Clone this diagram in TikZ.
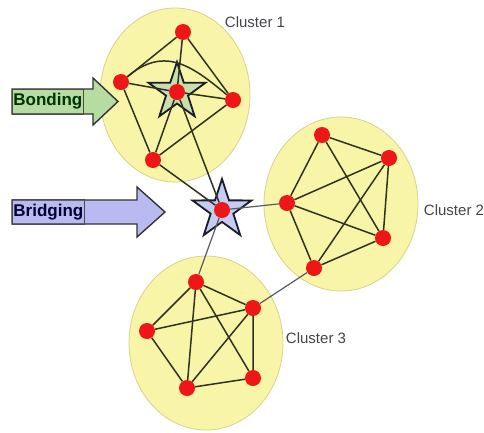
\documentclass[tikz,border=0pt]{standalone}
\usepackage{fontspec}
\setmainfont{Liberation Sans}
\usetikzlibrary{shapes.geometric}
\definecolor{clusterfill}{RGB}{248,245,168}
\definecolor{clusterline}{RGB}{212,212,140}
\definecolor{nodered}{RGB}{238,22,22}
\definecolor{edgedark}{RGB}{46,50,30}
\definecolor{linkgray}{RGB}{88,90,98}
\definecolor{labelgray}{RGB}{68,68,74}
\definecolor{bondgreen}{RGB}{182,220,162}
\definecolor{bridgeblue}{RGB}{186,186,242}
\definecolor{stargreen}{RGB}{200,222,172}
\definecolor{starblue}{RGB}{196,204,240}
\definecolor{starline}{RGB}{26,28,40}
\begin{document}
\begin{tikzpicture}[
        x=1pt, y=-1pt,
        zone/.style={draw=clusterline, fill=clusterfill, line width=0.8pt},
        member/.style={circle, fill=nodered, minimum size=16pt, inner sep=0pt},
        hub/.style={star, star points=5, star point ratio=2.6, draw=starline, line width=1.8pt, inner sep=0pt},
        edge/.style={draw=edgedark, line width=1.5pt},
        link/.style={draw=linkgray, line width=1.2pt},
        tag/.style={text=labelgray, font=\fontsize{15}{18}\selectfont},
        banner/.style={draw=black!80, line width=1.4pt, line join=miter},
        bannertext/.style={draw=black!70, line width=0.8pt, font=\bfseries\fontsize{17}{20}\selectfont, minimum height=25pt, inner xsep=1pt, inner ysep=0pt, anchor=west}
    ]
        \useasboundingbox (0,0) rectangle (484,432);

        \draw [zone] (175,95) ellipse [x radius=75pt, y radius=87pt];
        \draw [zone] (341,204) ellipse [x radius=77pt, y radius=87pt];
        \draw [zone] (206,343) ellipse [x radius=77pt, y radius=87pt];

        \draw [banner, fill=bondgreen] (12,89) -- (93,89) -- (93,78) -- (118,101.5) -- (93,125) -- (93,114) -- (12,114) -- cycle;
        \draw [banner, fill=bridgeblue] (12,200) -- (137,200) -- (137,187) -- (165,212) -- (137,237) -- (137,224) -- (12,224) -- cycle;
        \node [bannertext, text=black!80!green] (bonding) at (12,101.5) {Bonding};
        \node [bannertext, text=black!80!blue] (bridging) at (12,212) {Bridging};

        \node [hub, fill=stargreen, minimum size=60pt] (bondstar) at (177,92) {};
        \node [hub, fill=starblue, minimum size=62pt] (bridgestar) at (222,210) {};

        \node [member] (c1t) at (183,32) {};
        \node [member] (c1l) at (121,82) {};
        \node [member] (c1c) at (177,92) {};
        \node [member] (c1r) at (233,100) {};
        \node [member] (c1b) at (153,160) {};
        \node [member] (br) at (222,210) {};
        \node [member] (c2t) at (322,135) {};
        \node [member] (c2r) at (389,158) {};
        \node [member] (c2l) at (287,203) {};
        \node [member] (c2d) at (383,238) {};
        \node [member] (c2b) at (314,268) {};
        \node [member] (c3t) at (196,282) {};
        \node [member] (c3r) at (253,308) {};
        \node [member] (c3l) at (147,331) {};
        \node [member] (c3bl) at (187,388) {};
        \node [member] (c3br) at (253,378) {};

        \node [tag] (name1) at (255,22) {Cluster 1};
        \node [tag] (name2) at (454,210) {Cluster 2};
        \node [tag] (name3) at (316,338) {Cluster 3};

        \path [edge] (c1t) -- (c1l) (c1t) -- (c1r) (c1t) -- (c1c) (c1l) -- (c1c) (c1c) -- (c1r);
        \path [edge] (c1l) -- (c1b) (c1c) -- (c1b) (c1b) -- (c1r);
        \path [edge] (c1l) to[out=40, in=140, looseness=1.2] (c1r);
        \path [edge] (c1c) -- (br) (c1b) -- (br);

        \path [edge] (c2t) -- (c2r) (c2t) -- (c2l) (c2t) -- (c2d) (c2r) -- (c2l) (c2r) -- (c2d);
        \path [edge] (c2r) -- (c2b) (c2l) -- (c2d) (c2l) -- (c2b) (c2b) -- (c2d);

        \path [edge] (c3t) -- (c3r) (c3t) -- (c3l) (c3t) -- (c3bl) (c3t) -- (c3br) (c3r) -- (c3l);
        \path [edge] (c3r) -- (c3bl) (c3r) -- (c3br) (c3l) -- (c3bl) (c3bl) -- (c3br);

        \path [link] (br) -- (c2l) (br) -- (c3t) (c3r) -- (c2b);
    \end{tikzpicture}
\end{document}
